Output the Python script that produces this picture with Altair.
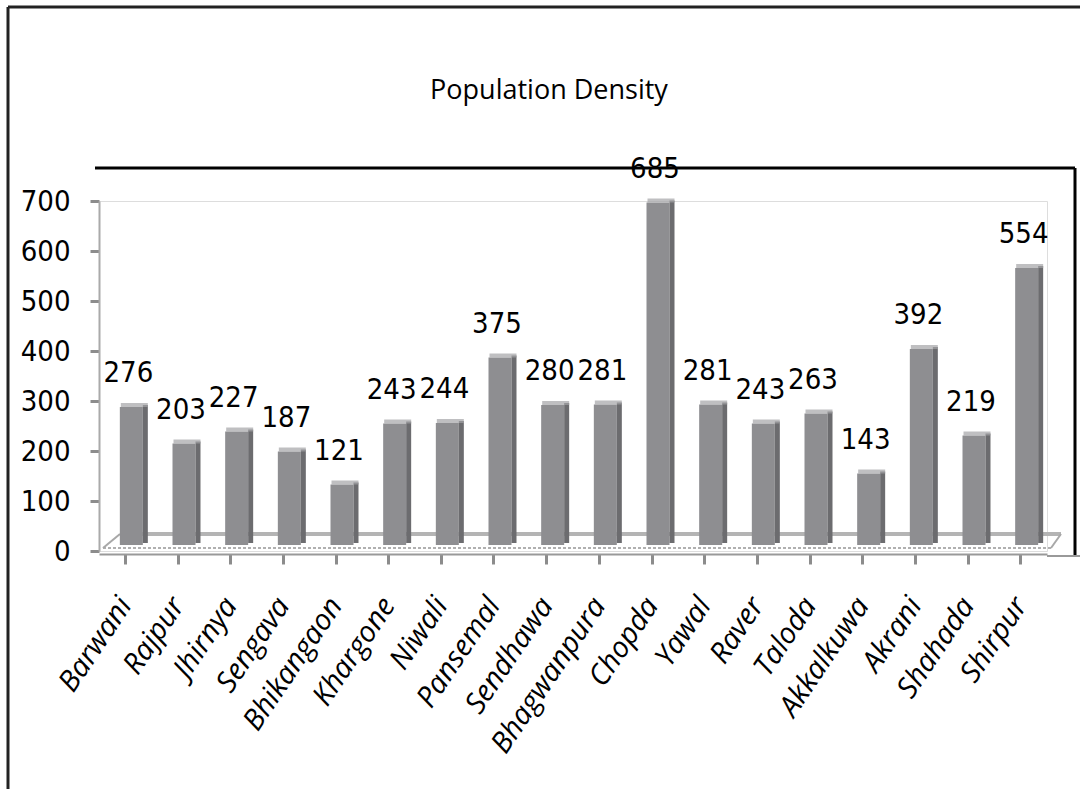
import altair as alt
import pandas as pd

# Block-wise population density (persons per sq. km)
blocks = ["Barwani", "Rajpur", "Jhirnya", "Sengava", "Bhikangaon", "Khargone",
          "Niwali", "Pansemal", "Sendhawa", "Bhagwanpura", "Chopda", "Yawal",
          "Raver", "Taloda", "Akkalkuwa", "Akrani", "Shahada", "Shirpur"]
density = [276, 203, 227, 187, 121, 243, 244, 375, 280, 281, 685, 281,
           243, 263, 143, 392, 219, 554]
y_ticks = [0, 100, 200, 300, 400, 500, 600, 700]
chart_title = "Population Density"

df = pd.DataFrame({"block": blocks, "density": density})
one = pd.DataFrame({"k": [0]})

W, H = 948, 350
NUM_FONT = "DejaVu Sans Condensed, Open Sans, sans-serif"
LBL_FONT = "Open Sans"

x_enc = alt.X(
    "block:N", sort=blocks, title=None,
    scale=alt.Scale(paddingInner=0, paddingOuter=0),
    axis=alt.Axis(
        labelAngle=-56, labelAlign="right", labelBaseline="middle",
        labelFont=LBL_FONT, labelFontStyle="italic", labelFontSize=29,
        labelColor="black", labelPadding=36, labelOverlap=False, labelLimit=400,
        domainColor="#999999", domainWidth=2, offset=3,
        tickColor="#8c8c8c", tickWidth=3, tickSize=10,
    ),
)
y_enc = alt.Y(
    "density:Q", title=None,
    scale=alt.Scale(domain=[0, 700], nice=False),
    axis=alt.Axis(
        values=y_ticks, grid=False, labelFont=NUM_FONT, labelFontSize=29,
        labelColor="black", labelPadding=20,
        domainColor="#aaaaaa", domainWidth=2,
        tickColor="#8c8c8c", tickWidth=3, tickSize=9,
    ),
)


def line(x1, x2, y1, y2, color, width, dash=None):
    kw = dict(color=color, strokeWidth=width)
    if dash:
        kw["strokeDash"] = dash
    return alt.Chart(one).mark_rule(**kw).encode(
        x=alt.value(x1), x2=alt.value(x2), y=alt.value(y1), y2=alt.value(y2)
    )


# 3-D floor plate under the bars
floor = (
    line(21, 962, 333, 333, "#b4b4b4", 4)
    + line(4, 952, 347, 347, "#b0b0b0", 2, [3, 2])
    + line(4, 21, 347, 333, "#a8a8a8", 2)
    + line(962, 952, 333, 347, "#a8a8a8", 2)
    + line(948, 981, 355, 355, "#999999", 2)
)

# bar faces: front, dark side, light top
front = alt.Chart(df).mark_bar(width=23, xOffset=6, yOffset=-6, color="#8e8e91").encode(
    x=x_enc, y=y_enc
)
side = alt.Chart(df).mark_bar(width=5, xOffset=20, yOffset=-8, color="#6c6c6f").encode(
    x=x_enc, y=y_enc
)
top = alt.Chart(df).mark_tick(size=27, thickness=4, xOffset=9, yOffset=-8,
                              color="#a4a4a7").encode(x=x_enc, y=y_enc)

labels = alt.Chart(df).mark_text(
    font=NUM_FONT, fontSize=29, color="black", baseline="alphabetic",
    dy=-31, dx=3,
).encode(x=x_enc, y=y_enc, text="density:Q")

# chart heading above the plot
heading = alt.Chart(pd.DataFrame({"t": [chart_title]})).mark_text(
    font=LBL_FONT, fontSize=27, color="black", baseline="alphabetic", align="center"
).encode(x=alt.value(450), y=alt.value(-102), text="t:N")

# frame lines around the plot and the outer border
frame = (
    line(-4, 976, -33, -33, "black", 3)
    + line(976, 976, -33, 354, "black", 3)
    + line(-91, 981, -194, -194, "#222222", 3)
    + line(-91, -91, -194, 588, "#222222", 3)
)

chart = alt.layer(floor, front, side, top, labels, heading, frame).properties(
    width=W, height=H,
    autosize=alt.AutoSizeParams(type="none"),
    padding={"left": 99, "top": 201, "right": 33, "bottom": 238},
).configure_view(stroke=None).configure(background="white")

chart.save("out.html", embed_options={"renderer": "svg", "actions": False})
